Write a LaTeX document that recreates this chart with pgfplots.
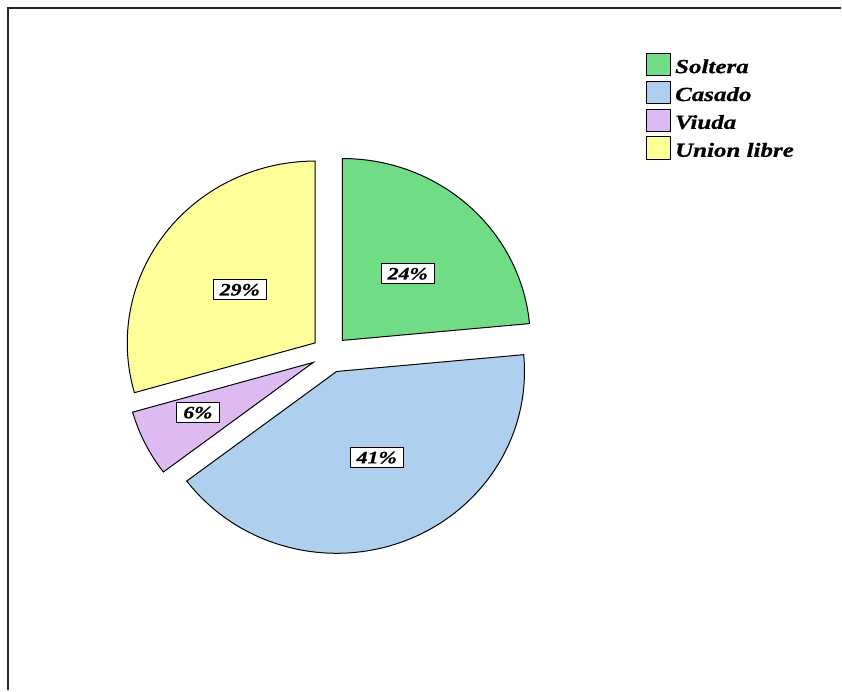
\documentclass[border=0pt]{standalone}
\usepackage{pgfplots}
\pgfplotsset{compat=1.18}
\usepackage{fontspec}
\newfontfamily\labfont[FakeStretch=1.25, BoldItalicFeatures={FakeBold=0.8}]{Liberation Serif}
\definecolor{cSol}{RGB}{112,221,134}
\definecolor{cCas}{RGB}{174,208,238}
\definecolor{cViu}{RGB}{221,186,242}
\definecolor{cUni}{RGB}{255,255,153}
\tikzset{lbl/.style={draw=black, line width=0.8pt, fill=white, inner xsep=6.5pt, inner ysep=4pt,
    font=\fontsize{17.5}{20}\labfont\bfseries\itshape}}
\begin{document}
\begin{tikzpicture}
% counts per category
\def\nSol{4}\def\nCas{7}\def\nViu{1}\def\nUni{5}
\pgfmathsetmacro\tot{\nSol+\nCas+\nViu+\nUni}
\pgfmathsetmacro\aA{90}
\pgfmathsetmacro\aB{\aA-360*\nSol/\tot}
\pgfmathsetmacro\aC{\aB-360*\nCas/\tot}
\pgfmathsetmacro\aD{\aC-360*\nViu/\tot}
\pgfmathsetmacro\aE{\aD-360*\nUni/\tot}
\def\cx{330.2}\def\cy{354.4}\def\rx{188}\def\ry{182}\def\dd{18.6}
% apex of each exploded slice
\pgfmathsetmacro\sAx{\cx+\dd*cos((\aA+\aB)/2)}\pgfmathsetmacro\sAy{\cy-\dd*sin((\aA+\aB)/2)}
\pgfmathsetmacro\sBx{\cx+\dd*cos((\aB+\aC)/2)}\pgfmathsetmacro\sBy{\cy-\dd*sin((\aB+\aC)/2)}
\pgfmathsetmacro\sCx{\cx+\dd*cos((\aC+\aD)/2)}\pgfmathsetmacro\sCy{\cy-\dd*sin((\aC+\aD)/2)}
\pgfmathsetmacro\sDx{\cx+\dd*cos((\aD+\aE)/2)}\pgfmathsetmacro\sDy{\cy-\dd*sin((\aD+\aE)/2)}
\begin{axis}[
  x=1pt, y=1pt, xmin=0, xmax=842, ymin=0, ymax=691, y dir=reverse,
  hide axis, clip=false,
  legend style={at={(axis cs:643.5,50.7)}, anchor=north west, draw=none, fill=none,
    font=\fontsize{20}{24}\labfont\bfseries\itshape, row sep=4.5pt, column sep=3pt,
    nodes={inner sep=1pt}, cells={anchor=west}},
  legend image code/.code={\draw[#1] (0pt,-8.8pt) rectangle (24pt,13.6pt);},
]
\path (axis cs:0,0) rectangle (axis cs:842,691);
\draw[line width=1.4pt, black!85] (axis cs:8,691) -- (axis cs:8,8) -- (axis cs:842,8);

\addplot[fill=cSol, draw=black, line width=1pt, domain=\aB:\aA, samples=90, variable=\t]
  ({\sAx+\rx*cos(\t)}, {\sAy-\ry*sin(\t)}) -- (axis cs:\sAx,\sAy) -- cycle;
\addlegendentry{Soltera}
\addplot[fill=cCas, draw=black, line width=1pt, domain=\aC:\aB, samples=120, variable=\t]
  ({\sBx+\rx*cos(\t)}, {\sBy-\ry*sin(\t)}) -- (axis cs:\sBx,\sBy) -- cycle;
\addlegendentry{Casado}
\addplot[fill=cViu, draw=black, line width=1pt, domain=\aD:\aC, samples=30, variable=\t]
  ({\sCx+\rx*cos(\t)}, {\sCy-\ry*sin(\t)}) -- (axis cs:\sCx,\sCy) -- cycle;
\addlegendentry{Viuda}
\addplot[fill=cUni, draw=black, line width=1pt, domain=\aE:\aD, samples=100, variable=\t]
  ({\sDx+\rx*cos(\t)}, {\sDy-\ry*sin(\t)}) -- (axis cs:\sDx,\sDy) -- cycle;
\addlegendentry{Union libre}

\node[lbl] at (axis cs:408,274) {24\%};
\node[lbl] at (axis cs:377,458) {41\%};
\node[lbl] at (axis cs:198,413) {6\%};
\node[lbl] at (axis cs:240,290) {29\%};
\end{axis}
\end{tikzpicture}
\end{document}
